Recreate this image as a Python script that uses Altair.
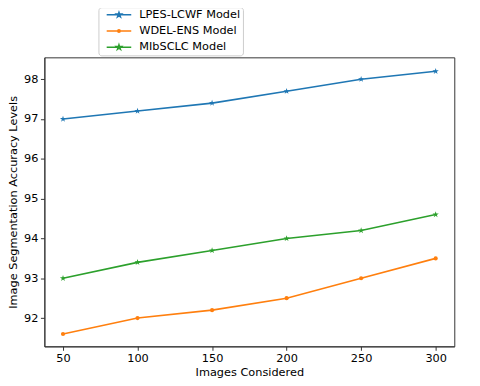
import altair as alt
import pandas as pd

# ---- data ----
x_vals = [50, 100, 150, 200, 250, 300]
series_names = ["LPES-LCWF Model", "WDEL-ENS Model", "MIbSCLC Model"]
lpes = [97.0, 97.2, 97.4, 97.7, 98.0, 98.2]
wdel = [91.6, 92.0, 92.2, 92.5, 93.0, 93.5]
mibs = [93.0, 93.4, 93.7, 94.0, 94.2, 94.6]
colors = ["#1f77b4", "#ff7f0e", "#2ca02c"]
x_ticks = [50, 100, 150, 200, 250, 300]
y_ticks = [92, 93, 94, 95, 96, 97, 98]

rows = []
for name, vals in zip(series_names, [lpes, wdel, mibs]):
    for xv, yv in zip(x_vals, vals):
        rows.append({"x": xv, "y": yv, "series": name})
df = pd.DataFrame(rows)

FONT = "DejaVu Sans"
FS = 11.5
STAR = ("M0,-1L0.2245,-0.309L0.951,-0.309L0.363,0.118L0.588,0.809L0,0.382"
        "L-0.588,0.809L-0.363,0.118L-0.951,-0.309L-0.2245,-0.309Z")

STAR_PTS = [(0, -1), (0.2245, -0.309), (0.951, -0.309), (0.363, 0.118), (0.588, 0.809),
            (0, 0.382), (-0.588, 0.809), (-0.363, 0.118), (-0.951, -0.309), (-0.2245, -0.309)]


def star_at(cx, s=0.8):
    return "M" + "L".join(f"{px * s + cx:.3f},{py * s:.3f}" for px, py in STAR_PTS) + "Z"


def dot_at(cx, r=0.4):
    return (f"M{cx + r:.3f},0A{r},{r} 0 1,1 {cx - r:.3f},0"
            f"A{r},{r} 0 1,1 {cx + r:.3f},0Z")


LINE = "M0.2,0H8.0"
leg_paths = [LINE + star_at(4.1), LINE + dot_at(4.1), LINE + star_at(4.1)]

color_scale = alt.Scale(domain=series_names, range=colors)
xs = alt.Scale(domain=[37.5, 312.5], nice=False, zero=False)
ys = alt.Scale(domain=[91.29, 98.55], nice=False, zero=False)

X = alt.X("x:Q", scale=xs, title="Images Considered",
          axis=alt.Axis(values=x_ticks, format="d", titlePadding=3))
Y = alt.Y("y:Q", scale=ys, title="Image Segmentation Accuracy Levels",
          axis=alt.Axis(values=y_ticks, format="d", titlePadding=5))

base = alt.Chart(df)

leg = alt.Legend(
    title=None, orient="none", legendX=55, legendY=-51,
    symbolSize=41, symbolStrokeWidth=1.5, labelOffset=28,
    labelFont=FONT, labelFontSize=FS,
    labelColor="#000", rowPadding=3.5, padding=2,
    strokeColor="#cccccc", fillColor="white", cornerRadius=3,
)

legend_layer = base.mark_point(filled=True, opacity=0).encode(
    x=X, y=Y,
    color=alt.Color("series:N", scale=color_scale, legend=leg, sort=series_names),
    shape=alt.Shape("series:N", scale=alt.Scale(domain=series_names, range=leg_paths),
                    legend=leg, sort=series_names),
)

lines = base.mark_line(strokeWidth=1.6).encode(
    x=X, y=Y,
    color=alt.Color("series:N", scale=color_scale, legend=None),
    detail="series:N",
)

stars = base.transform_filter(
    alt.FieldOneOfPredicate(field="series", oneOf=[series_names[0], series_names[2]])
).mark_point(filled=True, shape=STAR, size=44, opacity=1).encode(
    x=X, y=Y, color=alt.Color("series:N", scale=color_scale, legend=None)
)

dots = base.transform_filter(
    alt.FieldEqualPredicate(field="series", equal=series_names[1])
).mark_point(filled=True, shape="circle", size=18, opacity=1).encode(
    x=X, y=Y, color=alt.Color("series:N", scale=color_scale, legend=None)
)

chart = alt.layer(legend_layer, lines, stars, dots).properties(
    width=417, height=294,
    autosize=alt.AutoSizeParams(type="none"),
    padding={"left": 37, "top": 47, "right": 18, "bottom": 29},
).configure_view(
    stroke="#333", strokeWidth=1
).configure_axis(
    grid=False, domainColor="#333", tickColor="#333", tickSize=4,
    labelFont=FONT, labelFontSize=FS, labelColor="#000",
    titleFont=FONT, titleFontSize=FS, titleColor="#000", titleFontWeight="normal",
    labelPadding=2.5,
)

chart.save("out.html", embed_options={"renderer": "svg", "actions": False})
